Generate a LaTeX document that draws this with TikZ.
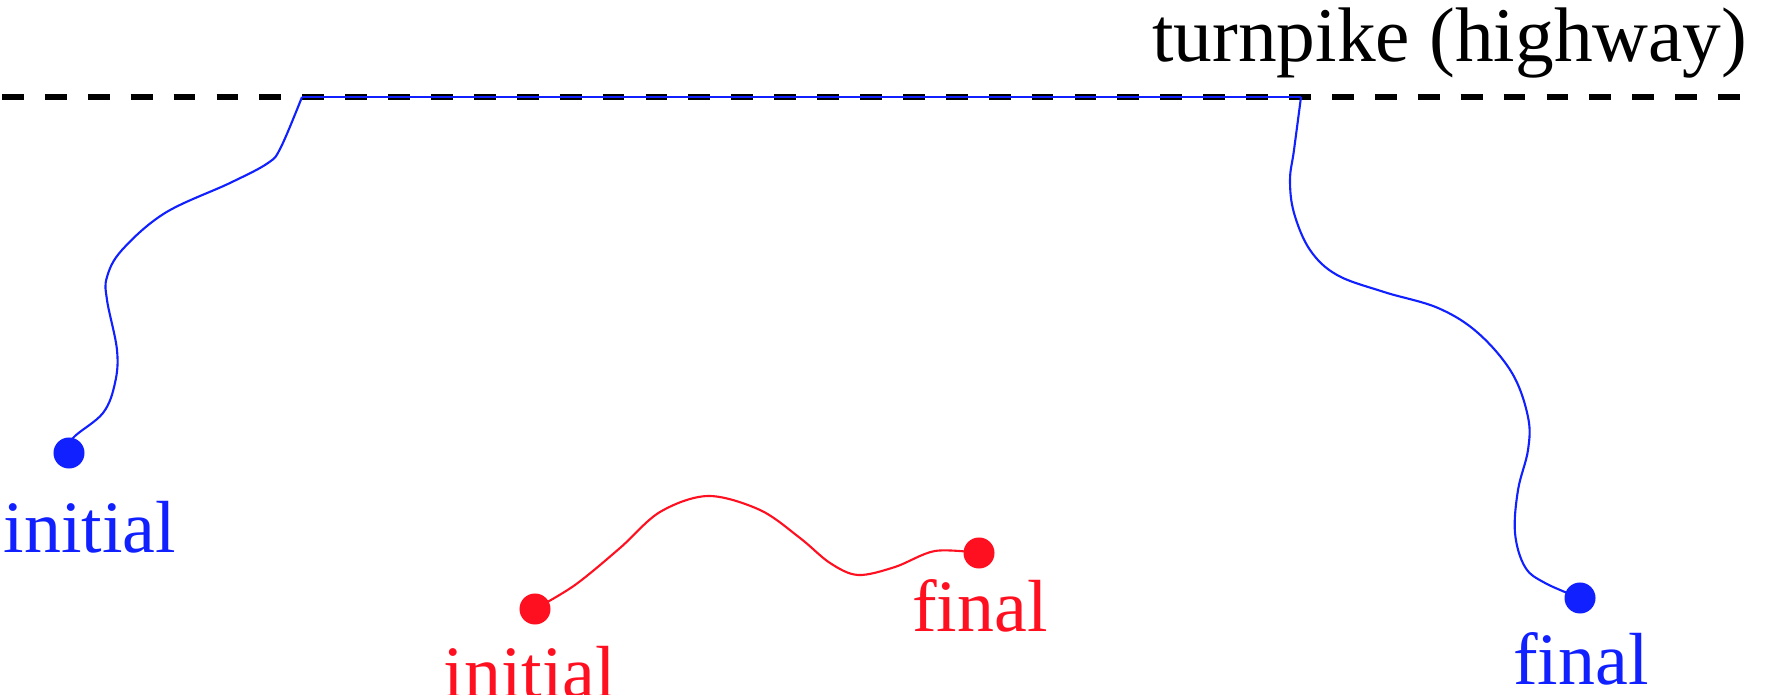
\documentclass[tikz,border=0pt]{standalone}
\usepackage{fontspec}
\setmainfont{Liberation Serif}
\definecolor{pathblue}{RGB}{16,32,255}
\definecolor{pathred}{RGB}{255,16,32}
\begin{document}
\begin{tikzpicture}[x=0.01cm,y=-0.01cm]
	\tikzstyle{dt} = [circle, fill, inner sep=0pt, minimum size=0.31cm]
	\tikzstyle{lb} = [font=\fontsize{21}{25}\selectfont, inner sep=0pt, anchor=base]
	\tikzstyle{trj} = [line width=0.6pt]
	\clip (0,0) rectangle (1776,695);
	% turnpike
	\coordinate (hl) at (2,97);
	\coordinate (hr) at (1752,97);
	\draw[line width=1.5pt, dash pattern=on 6.2pt off 6pt] (hl) -- (hr);
	\node[lb, anchor=base east, font=\fontsize{22}{26}\selectfont] (hw) at (1748,62) {turnpike (highway)};
	% long trajectory
	\node[dt, pathblue] (bi) at (69,453) {};
	\node[dt, pathblue] (bf) at (1580,598) {};
	\coordinate (on) at (302,97);
	\coordinate (off) at (1301,97);
	\draw[trj, pathblue] plot[smooth, tension=0.6] coordinates {(bi.center) (73,438) (103,413) (115,383) (117,350) (107,300) (107,277) (122,250) (165,213) (230,183) (268,163) (281,147) (on)};
	\draw[trj, pathblue] (on) -- (off);
	\draw[trj, pathblue] plot[smooth, tension=0.6] coordinates {(off) (1294,150) (1290,180) (1294,213) (1310,250) (1337,275) (1384,292) (1438,308) (1478,333) (1512,373) (1528,417) (1528,450) (1518,490) (1515,533) (1525,567) (1545,583) (bf.center)};
	\node[lb, pathblue] (bil) at (90,553) {initial};
	\node[lb, pathblue] (bfl) at (1581,685) {final};
	% short trajectory
	\node[dt, pathred] (ri) at (535,609) {};
	\node[dt, pathred] (rf) at (979,553) {};
	\draw[trj, pathred] plot[smooth, tension=0.55] coordinates {(ri.center) (575,585) (620,548) (660,512) (708,496) (760,510) (800,538) (830,563) (858,575) (895,567) (935,551) (rf.center)};
	\node[lb, pathred] (ril) at (530,698) {initial};
	\node[lb, pathred] (rfl) at (980,632) {final};
\end{tikzpicture}
\end{document}
